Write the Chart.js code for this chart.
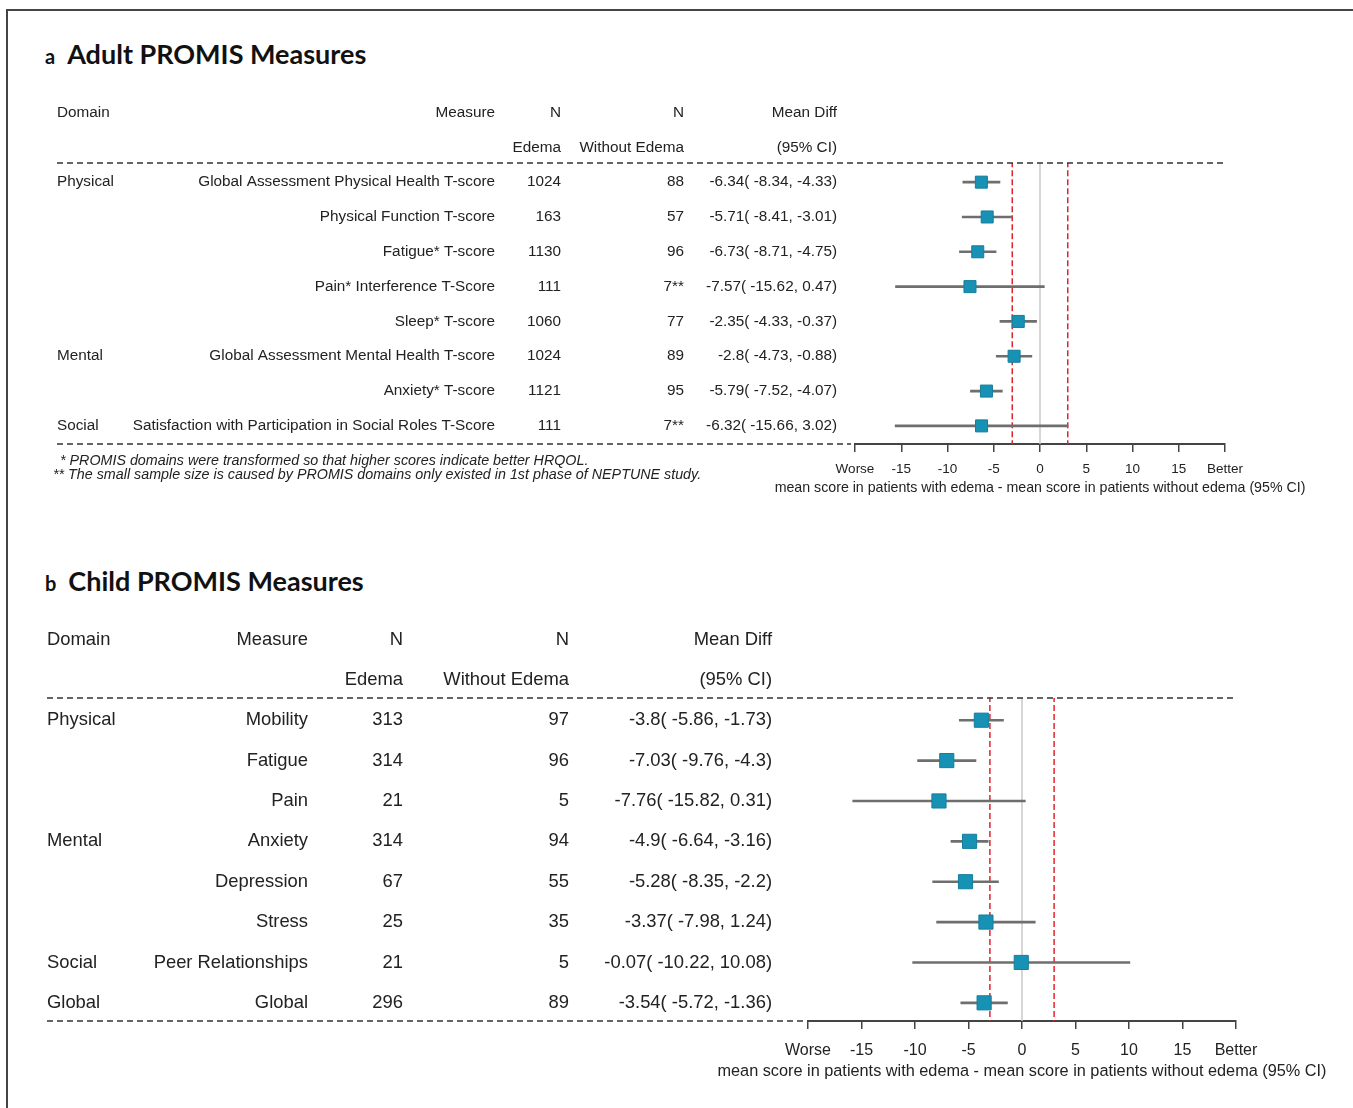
<!DOCTYPE html>
<html>
<head>
<meta charset="utf-8">
<title>PROMIS Measures forest plots</title>
<script src="https://cdn.jsdelivr.net/npm/chart.js@4.4.1/dist/chart.umd.min.js"></script>
<style>
  body { margin: 0; background: #fff; width: 1353px; height: 1108px; position: relative; overflow: hidden; }
  .frame { position: absolute; left: 6px; top: 9px; right: 0; bottom: 0; border-top: 2px solid #444; border-left: 2px solid #444; }
  .panel-title { position: absolute; font-family: Lato, 'Open Sans', sans-serif; font-weight: 700; font-size: 27px; color: #111; white-space: nowrap; line-height: 30px; }
  .panel-title .tag { font-size: 20px; margin-right: 12px; }
  canvas { position: absolute; left: 0; }
</style>
</head>
<body>
<div class="frame"></div>
<div class="panel-title" style="left:45px; top:39px;"><span class="tag">a</span>Adult PROMIS Measures</div>
<div class="panel-title" style="left:45px; top:566px;"><span class="tag">b</span>Child PROMIS Measures</div>
<canvas id="chart-a" width="1353" height="530" style="top:0"></canvas>
<canvas id="chart-b" width="1353" height="578" style="top:530px"></canvas>
<script>
// adult panel
const adultDomains = ['Physical', '', '', '', '', 'Mental', '', 'Social']
const adultMeasures = [
      'Global Assessment Physical Health T-score',
      'Physical Function T-score',
      'Fatigue* T-score',
      'Pain* Interference T-Score',
      'Sleep* T-score',
      'Global Assessment Mental Health T-score',
      'Anxiety* T-score',
      'Satisfaction with Participation in Social Roles T-Score'
]
const adultNEdema = ['1024', '163', '1130', '111', '1060', '1024', '1121', '111']
const adultNWithout = ['88', '57', '96', '7**', '77', '89', '95', '7**']
const adultMean = [-6.34, -5.71, -6.73, -7.57, -2.35, -2.8, -5.79, -6.32]
const adultLower = [-8.34, -8.41, -8.71, -15.62, -4.33, -4.73, -7.52, -15.66]
const adultUpper = [-4.33, -3.01, -4.75, 0.47, -0.37, -0.88, -4.07, 3.02]
const adultNotes = [
      '* PROMIS domains were transformed so that higher scores indicate better HRQOL.',
      '** The small sample size is caused by PROMIS domains only existed in 1st phase of NEPTUNE study.'
]

// child panel
const childDomains = ['Physical', '', '', 'Mental', '', '', 'Social', 'Global']
const childMeasures = ['Mobility', 'Fatigue', 'Pain', 'Anxiety', 'Depression', 'Stress', 'Peer Relationships', 'Global']
const childNEdema = ['313', '314', '21', '314', '67', '25', '21', '296']
const childNWithout = ['97', '96', '5', '94', '55', '35', '5', '89']
const childMean = [-3.8, -7.03, -7.76, -4.9, -5.28, -3.37, -0.07, -3.54]
const childLower = [-5.86, -9.76, -15.82, -6.64, -8.35, -7.98, -10.22, -5.72]
const childUpper = [-1.73, -4.3, 0.31, -3.16, -2.2, 1.24, 10.08, -1.36]

// shared
const headerTop = ['Domain', 'Measure', 'N', 'N', 'Mean Diff']
const headerSub = ['', '', 'Edema', 'Without Edema', '(95% CI)']
const xTickValues = [-20, -15, -10, -5, 0, 5, 10, 15, 20]
const xTickLabels = ['Worse', '-15', '-10', '-5', '0', '5', '10', '15', 'Better']
const midLines = [-3, 3]
const zeroLine = 0
const axisTitle = 'mean score in patients with edema - mean score in patients without edema (95% CI)'

const FONT = "'Liberation Sans', Arial, sans-serif"

function ciText(m, lo, hi) {
      return m + '( ' + lo + ', ' + hi + ')'
}

function tablePlugin(t) {
      return {
            id: 'forestTable',
            afterDraw(chart) {
                  const ctx = chart.ctx
                  const x = chart.scales.x
                  const y = chart.scales.y
                  const area = chart.chartArea
                  const aligns = ['left', 'right', 'right', 'right', 'right']
                  ctx.save()
                  ctx.fillStyle = '#222'
                  ctx.font = t.fontSize + 'px ' + FONT
                  ctx.textBaseline = 'middle'
                  const drawRow = (cells, v) => {
                        cells.forEach((txt, c) => {
                              ctx.textAlign = aligns[c]
                              ctx.fillText(txt, t.colX[c], y.getPixelForValue(v))
                        })
                  }
                  drawRow(headerTop, -2)
                  drawRow(headerSub, -1)
                  t.domains.forEach((d, i) => {
                        drawRow([d, t.measures[i], t.nEdema[i], t.nWithout[i], ciText(t.mean[i], t.lower[i], t.upper[i])], i)
                  })

                  // axis title, wider than the axis itself
                  ctx.font = t.axisFont + 'px ' + FONT
                  ctx.textAlign = 'center'
                  ctx.fillText(axisTitle, x.getPixelForValue(0), area.bottom + t.axisTitleGap)

                  ctx.strokeStyle = '#333'
                  ctx.lineWidth = 1.5
                  ctx.setLineDash([6, 4])
                  ctx.beginPath()
                  ctx.moveTo(t.colX[0], area.top)
                  ctx.lineTo(area.right, area.top)
                  ctx.moveTo(t.colX[0], area.bottom)
                  ctx.lineTo(area.left - 4, area.bottom)
                  ctx.stroke()

                  if (t.notes) {
                        ctx.setLineDash([])
                        ctx.font = 'italic 14.3px ' + FONT
                        ctx.textAlign = 'left'
                        t.notes.forEach((n, k) => {
                              ctx.fillText(n, t.noteX[k], t.noteY[k])
                        })
                  }
                  ctx.restore()
            }
      }
}

function makeForest(id, t, s) {
      const idx = t.mean.map((_, i) => i)
      const datasets = [
            {
                  type: 'scatter',
                  data: idx.map(i => ({ x: t.mean[i], y: i })),
                  pointStyle: 'rect',
                  pointRadius: s.pointRadius,
                  backgroundColor: '#1792b4',
                  borderColor: '#147f9c',
                  borderWidth: 1,
                  order: 0
            },
            {
                  type: 'bar',
                  indexAxis: 'y',
                  data: idx.map(i => ({ x: [t.lower[i], t.upper[i]], y: i })),
                  backgroundColor: '#6e6e6e',
                  barThickness: 2,
                  order: 1
            }
      ]
      midLines.forEach(v => {
            datasets.push({
                  type: 'line',
                  data: [{ x: v, y: -0.6 }, { x: v, y: 7.6 }],
                  borderColor: '#e0242b',
                  borderWidth: 1.5,
                  borderDash: [6, 3],
                  pointRadius: 0,
                  order: 2
            })
      })
      datasets.push({
            type: 'line',
            data: [{ x: zeroLine, y: -0.6 }, { x: zeroLine, y: 7.6 }],
            borderColor: '#c9c9c9',
            borderWidth: 1.5,
            pointRadius: 0,
            order: 3
      })

      new Chart(document.getElementById(id), {
            type: 'scatter',
            data: { datasets: datasets },
            options: {
                  responsive: false,
                  animation: false,
                  devicePixelRatio: 1,
                  layout: { padding: s.padding },
                  plugins: { legend: { display: false }, tooltip: { enabled: false } },
                  scales: {
                        x: {
                              type: 'linear',
                              min: -20,
                              max: 20,
                              offset: false,
                              afterFit: sc => { sc.height = s.axisHeight },
                              afterBuildTicks: sc => { sc.ticks = xTickValues.map(v => ({ value: v })) },
                              ticks: {
                                    autoSkip: false,
                                    maxRotation: 0,
                                    color: '#222',
                                    padding: s.tickPad,
                                    font: { family: FONT, size: s.tickFont },
                                    callback: v => xTickLabels[xTickValues.indexOf(v)]
                              },
                              grid: { drawOnChartArea: false, drawTicks: true, tickLength: 8, color: '#444', lineWidth: 1.5, offset: false },
                              border: { display: true, color: '#444', width: 2 },
                              title: { display: false }
                        },
                        y: {
                              type: 'linear',
                              display: false,
                              offset: false,
                              reverse: true,
                              min: -0.55,
                              max: s.yMax,
                              grid: { offset: false }
                        }
                  }
            },
            plugins: [tablePlugin(t)]
      })
}

makeForest('chart-a', {
      domains: adultDomains, measures: adultMeasures, nEdema: adultNEdema, nWithout: adultNWithout,
      mean: adultMean, lower: adultLower, upper: adultUpper,
      fontSize: 15.3, colX: [57, 495, 561, 684, 837],
      axisFont: 14.2, axisTitleGap: 44,
      notes: adultNotes, noteX: [60, 53], noteY: [461, 475]
}, { padding: { left: 855, right: 128, top: 163, bottom: 34 }, axisHeight: 52, tickPad: 9, tickFont: 13.5, pointRadius: 8.5, yMax: 7.52 })

makeForest('chart-b', {
      domains: childDomains, measures: childMeasures, nEdema: childNEdema, nWithout: childNWithout,
      mean: childMean, lower: childLower, upper: childUpper,
      fontSize: 18.4, colX: [47, 308, 403, 569, 772],
      axisFont: 16.3, axisTitleGap: 51
}, { padding: { left: 808, right: 117, top: 168, bottom: 26 }, axisHeight: 61, tickPad: 12, tickFont: 16, pointRadius: 10, yMax: 7.45 })
</script>
</body>
</html>
